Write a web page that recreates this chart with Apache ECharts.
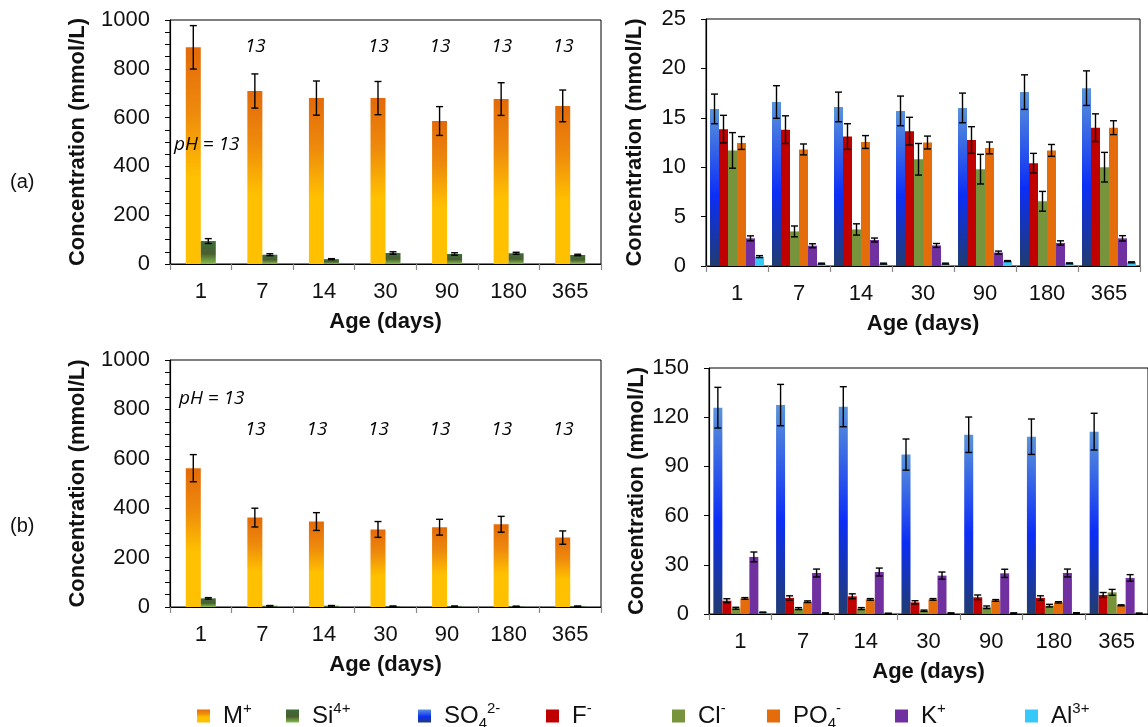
<!DOCTYPE html>
<html>
<head>
<meta charset="utf-8">
<script src="https://cdn.jsdelivr.net/npm/echarts@6/dist/echarts.min.js"></script>
<style>
html,body{margin:0;padding:0;background:#fff;}
#chart{width:1148px;height:727px;}
</style>
</head>
<body>
<div id="chart"></div>
<script>
// ---------- data ----------
const ages = ['1','7','14','30','90','180','365'];

// (a) left panel: M+ and Si4+ (mmol/L)
const aM     = [888, 709, 680, 680, 586, 676, 648];
const aMErr  = [89, 70, 70, 68, 59, 67, 65];
const aSi    = [94, 38, 20, 45, 41, 44, 37];
const aSiErr = [10, 4, 2, 5, 5, 4, 3];

// (b) left panel
const bM     = [562, 362, 346, 314, 323, 335, 281];
const bMErr  = [55, 38, 36, 32, 32, 32, 27];
const bSi    = [35, 5, 5, 3, 3, 2.5, 3];
const bSiErr = [3, 1, 1, 1, 1, 1, 1];

// (a) right panel
const aSO4    = [15.9, 16.6, 16.1, 15.7, 16.0, 17.6, 18.0];
const aSO4Err = [1.5, 1.65, 1.5, 1.5, 1.5, 1.75, 1.75];
const aF      = [13.85, 13.8, 13.1, 13.65, 12.75, 10.4, 14.0];
const aFErr   = [1.4, 1.4, 1.3, 1.4, 1.35, 1.0, 1.4];
const aCl     = [11.7, 3.5, 3.7, 10.8, 9.8, 6.55, 10.0];
const aClErr  = [1.8, 0.55, 0.57, 1.6, 1.5, 1.0, 1.5];
const aPO4    = [12.45, 11.8, 12.55, 12.5, 11.95, 11.7, 14.0];
const aPO4Err = [0.65, 0.55, 0.65, 0.65, 0.6, 0.6, 0.7];
const aK      = [2.8, 2.05, 2.63, 2.08, 1.36, 2.33, 2.8];
const aKErr   = [0.25, 0.2, 0.2, 0.2, 0.15, 0.22, 0.27];
const aAl     = [0.95, 0.24, 0.24, 0.24, 0.5, 0.27, 0.37];
const aAlErr  = [0.1, 0.05, 0.05, 0.05, 0.05, 0.05, 0.05];

// (b) right panel
const bSO4    = [125.8, 127.4, 126.4, 97.2, 109.3, 108.1, 111.2];
const bSO4Err = [12.4, 12.6, 12.2, 9.5, 10.8, 10.8, 11.2];
const bF      = [8.1, 9.8, 10.8, 7.1, 10.2, 9.8, 11.6];
const bFErr   = [1.2, 1.3, 1.5, 1.0, 1.4, 1.3, 1.5];
const bCl     = [3.5, 3.3, 3.3, 2.0, 4.1, 5.1, 13.2];
const bClErr  = [0.6, 0.6, 0.6, 0.4, 0.8, 0.8, 1.8];
const bPO4    = [9.5, 7.5, 8.9, 8.9, 8.3, 7.1, 5.3];
const bPO4Err = [0.5, 0.5, 0.5, 0.5, 0.5, 0.4, 0.3];
const bK      = [34.8, 25.0, 25.6, 23.4, 24.8, 25.0, 22.0];
const bKErr   = [3, 2.4, 2.4, 2.2, 2.5, 2.4, 2.0];
const bAl     = [1.0, 0.5, 0.3, 0.5, 0.5, 0.6, 0.4];
const bAlErr  = [0.2, 0.2, 0.2, 0.2, 0.2, 0.2, 0.2];

// pH annotations
const aNoteCats = ['1','7','30','90','180','365'];
const aNoteVals = [488, 893, 893, 893, 893, 893];
const aNoteText = ['pH = 13','13','13','13','13','13'];
const bNoteCats = ['1','7','14','30','90','180','365'];
const bNoteVals = [842, 717, 717, 717, 717, 717, 717];
const bNoteText = ['pH = 13','13','13','13','13','13','13'];

const legendNames = ['M+','Si4+','SO42-','F-','Cl-','PO4-','K+','Al3+'];
const legendRich = {
  'M+':'{b|M}{sup|+}', 'Si4+':'{b|Si}{sup|4+}', 'SO42-':'{b|SO}{sub|4}{sup|2-}',
  'F-':'{b|F}{sup|-}', 'Cl-':'{b|Cl}{sup|-}', 'PO4-':'{b|PO}{sub|4}{sup|-}',
  'K+':'{b|K}{sup|+}', 'Al3+':'{b|Al}{sup|3+}'
};

// ---------- styles ----------
const FONT = "'Liberation Sans', Arial, Helvetica, sans-serif";
const G = echarts.graphic.LinearGradient;
const colors = {
  'M+': new G(0,0,0,1,[{offset:0,color:'#E36A0A'},{offset:0.3,color:'#EE8A0C'},{offset:0.6,color:'#FFC000'},{offset:1,color:'#FFC000'}]),
  'Si4+': new G(0,0,0,1,[{offset:0,color:'#3C6C3A'},{offset:0.55,color:'#4A5E30'},{offset:1,color:'#86BE4C'}]),
  'SO42-': new G(0,0,0,1,[{offset:0,color:'#5B94D9'},{offset:0.55,color:'#0C2EF6'},{offset:1,color:'#213C70'}]),
  'F-': '#C00000',
  'Cl-': '#77933C',
  'PO4-': '#E46C0A',
  'K+': '#7030A0',
  'Al3+': '#36C8F8'
};

const grids = [
  {left:170, top:20,  width:431, height:244},
  {left:706, top:19,  width:434, height:247},
  {left:170, top:360, width:431, height:247},
  {left:709, top:368, width:441, height:246}
].map(g => Object.assign(g, {show:true, borderColor:'#000', borderWidth:1}));

function xAx(gi){
  return {
    type:'category', gridIndex:gi, data:ages,
    axisLine:{lineStyle:{color:'#000', width:1.2}},
    axisTick:{show:true, length:6, lineStyle:{color:'#888', width:1.2}},
    axisLabel:{fontSize:22, color:'#111', fontFamily:FONT, margin:17},
    name:'Age (days)', nameLocation:'middle', nameGap:47,
    nameTextStyle:{fontSize:22, fontWeight:'bold', color:'#111', fontFamily:FONT}
  };
}
function yAx(gi, max, interval, minor, gap){
  return {
    type:'value', gridIndex:gi, min:0, max:max, interval:interval,
    axisLine:{show:true, lineStyle:{color:'#000', width:1.2}},
    axisTick:{show:true, length:5, lineStyle:{color:'#000'}},
    minorTick: minor ? {show:true, splitNumber:4, length:5, lineStyle:{color:'#000'}} : {show:false},
    splitLine:{show:false},
    axisLabel:{fontSize:22, color:'#111', fontFamily:FONT, margin:20, formatter: v => String(v)},
    name:'Concentration (mmol/L)', nameLocation:'middle', nameGap:gap,
    nameTextStyle:{fontSize:22, fontWeight:'bold', color:'#111', fontFamily:FONT}
  };
}

const series = [];
const errs = [];
function addGroup(gi, names, vals, errVals, bw){
  const n = names.length;
  names.forEach((nm, k) => {
    series.push({
      type:'bar', name:nm, xAxisIndex:gi, yAxisIndex:gi,
      data: vals[k], barWidth:bw, barGap:'0%',
      itemStyle:{color:colors[nm]}, silent:true
    });
    const off = (k - (n-1)/2) * bw;
    errs.push({
      type:'custom', name:nm+' err', xAxisIndex:gi, yAxisIndex:gi, z:5, silent:true,
      data: vals[k].map((v,i)=>[i, v, errVals[k][i]]),
      encode:{x:0, y:1},
      renderItem:function(params, api){
        const i = api.value(0), v = api.value(1), e = api.value(2);
        const x = api.coord([i, v])[0] + off;
        const yt = api.coord([i, v + e])[1];
        const yb = api.coord([i, Math.max(v - e, 0)])[1];
        const h = 3.5;
        const st = {stroke:'#000', lineWidth:1.4};
        return {type:'group', children:[
          {type:'line', shape:{x1:x, y1:yt, x2:x, y2:yb}, style:st},
          {type:'line', shape:{x1:x-h, y1:yt, x2:x+h, y2:yt}, style:st},
          {type:'line', shape:{x1:x-h, y1:yb, x2:x+h, y2:yb}, style:st}
        ]};
      }
    });
  });
}
addGroup(0, ['M+','Si4+'], [aM, aSi], [aMErr, aSiErr], 15);
addGroup(2, ['M+','Si4+'], [bM, bSi], [bMErr, bSiErr], 15);
addGroup(1, ['SO42-','F-','Cl-','PO4-','K+','Al3+'], [aSO4,aF,aCl,aPO4,aK,aAl], [aSO4Err,aFErr,aClErr,aPO4Err,aKErr,aAlErr], 9);
addGroup(3, ['SO42-','F-','Cl-','PO4-','K+','Al3+'], [bSO4,bF,bCl,bPO4,bK,bAl], [bSO4Err,bFErr,bClErr,bPO4Err,bKErr,bAlErr], 9);

function notes(gi, cats, vals, texts, phOff){
  return {
    type:'scatter', name:'notes'+gi, xAxisIndex:gi, yAxisIndex:gi, silent:true,
    symbol:'circle', symbolSize:0.5, itemStyle:{color:'rgba(0,0,0,0)'}, z:6,
    data: cats.map((c,i)=>({
      value:[c, vals[i]], name:texts[i],
      label:{offset:[texts[i].length > 2 ? phOff : -7, 0]}
    })),
    label:{show:true, position:'inside', formatter:'{b}', fontSize:19, fontStyle:'italic',
           fontFamily:"'Open Sans', Lato, sans-serif", color:'#000', opacity:1,
           textBorderWidth:0}
  };
}
series.push(notes(0, aNoteCats, aNoteVals, aNoteText, 6));
series.push(notes(2, bNoteCats, bNoteVals, bNoteText, 11));

const legendX = [192, 281, 413, 541, 667, 762, 890, 1020];
const legends = legendNames.map((nm, i) => ({
  data:[nm], left:legendX[i], top:696, icon:'rect', itemWidth:13, itemHeight:13,
  selectedMode:false,
  formatter: n => legendRich[n],
  textStyle:{
    padding:[0,0,0,8],
    rich:{
      b:{fontSize:24, lineHeight:30, color:'#111', fontFamily:FONT},
      sup:{fontSize:15, lineHeight:16, verticalAlign:'top', color:'#111', fontFamily:FONT},
      sub:{fontSize:15, lineHeight:10, verticalAlign:'bottom', color:'#111', fontFamily:FONT}
    }
  }
}));

const chart = echarts.init(document.getElementById('chart'), null, {renderer:'canvas'});
chart.setOption({
  animation:false,
  backgroundColor:'#fff',
  grid:grids,
  xAxis:[xAx(0), xAx(1), xAx(2), xAx(3)],
  yAxis:[yAx(0,1000,200,true,81), yAx(1,25,5,false,60), yAx(2,1000,200,true,81), yAx(3,150,30,false,60)],
  legend:legends,
  series:series.concat(errs),
  graphic:[
    {type:'text', left:10, top:172, style:{text:'(a)', fontSize:20, fill:'#111', fontFamily:FONT}},
    {type:'text', left:10, top:516, style:{text:'(b)', fontSize:20, fill:'#111', fontFamily:FONT}}
  ]
});
</script>
</body>
</html>
